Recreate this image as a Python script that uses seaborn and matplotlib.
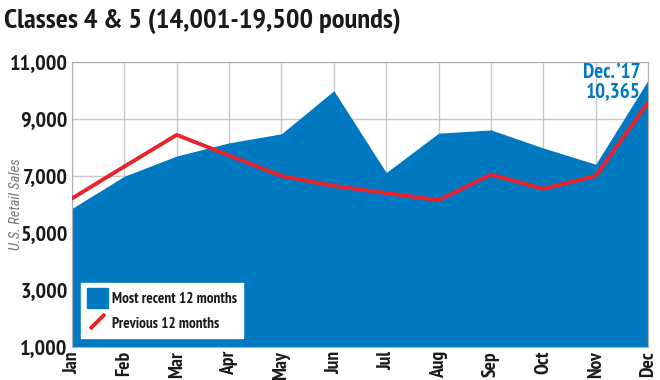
import matplotlib
matplotlib.use("Agg")
import matplotlib.pyplot as plt
from matplotlib.lines import Line2D
from matplotlib.patches import Patch
import seaborn as sns
import pandas as pd

# data
months = ["Jan", "Feb", "Mar", "Apr", "May", "Jun", "Jul", "Aug", "Sep", "Oct", "Nov", "Dec"]
recent = [5860, 6990, 7700, 8160, 8480, 9990, 7120, 8500, 8615, 7980, 7410, 10365]
previous = [6210, 7330, 8440, 7720, 7000, 6650, 6400, 6150, 7050, 6550, 7000, 9580]
yticks = [1000, 3000, 5000, 7000, 9000, 11000]

blue = "#0079c1"
red = "#e8232b"
ink = "#1a1a1a"
narrow = ["PT Sans Narrow", "Roboto Condensed", "DejaVu Sans"]

df = pd.DataFrame({"month": months, "recent": recent, "previous": previous})
df["x"] = range(len(months))

sns.set_style("white")
plt.rcParams["font.family"] = narrow
fig = plt.figure(figsize=(6.6, 3.8), dpi=100)
ax = fig.add_axes([0.109, 0.087, 0.873, 0.75])

ax.fill_between(df["x"], 0, df["recent"], color=blue, lw=0, zorder=2)
sns.lineplot(data=df, x="x", y="previous", color=red, lw=2.8, ax=ax, zorder=3)

ax.set_xlim(0, 11)
ax.set_ylim(1000, 11000)
ax.set_xticks(df["x"])
ax.set_xticklabels(months, rotation=90, fontweight="bold", fontsize=14, color=ink)
ax.set_yticks(yticks)
ax.set_yticklabels([f"{v:,}" for v in yticks], fontweight="bold", fontsize=16, color=ink)
ax.tick_params(length=0, pad=3)
ax.grid(True, color="#c8c8c8", lw=1)
ax.set_axisbelow(True)
for s in ax.spines.values():
    s.set_color("#b0b0b0")
ax.set_xlabel("")
ax.set_ylabel("U.S. Retail Sales", fontstyle="italic", color="#777777", fontsize=10.5,
              fontfamily=["Roboto Condensed", "DejaVu Sans"])
ax.yaxis.set_label_coords(-0.085, 0.5)

ax.text(10.85, 10980, "Dec. \u201917\n10,365", ha="right", va="top", color=blue,
        fontweight="bold", fontsize=15, linespacing=1.1, zorder=4)

handles = [Patch(facecolor=blue, edgecolor=blue),
           Line2D([], [], color=red, lw=0, marker=(2, 2, -45), markersize=15, markeredgewidth=2.6)]
leg = ax.legend(handles, ["Most recent 12 months", "Previous 12 months"], loc="lower left",
                bbox_to_anchor=(0.016, 0.03), frameon=True, fancybox=False, framealpha=1,
                edgecolor="white", prop={"weight": "bold", "size": 11},
                handlelength=1.4, handleheight=1.6, borderpad=0.35, labelspacing=0.35,
                handletextpad=0.3, borderaxespad=0)
leg.set_zorder(5)
for t in leg.get_texts():
    t.set_color(ink)

fig.text(0.006, 0.945, "Classes 4 & 5 (14,001-19,500 pounds)", fontweight="bold",
         fontsize=20.5, color=ink, va="center")

fig.savefig("out.png", dpi=100)
